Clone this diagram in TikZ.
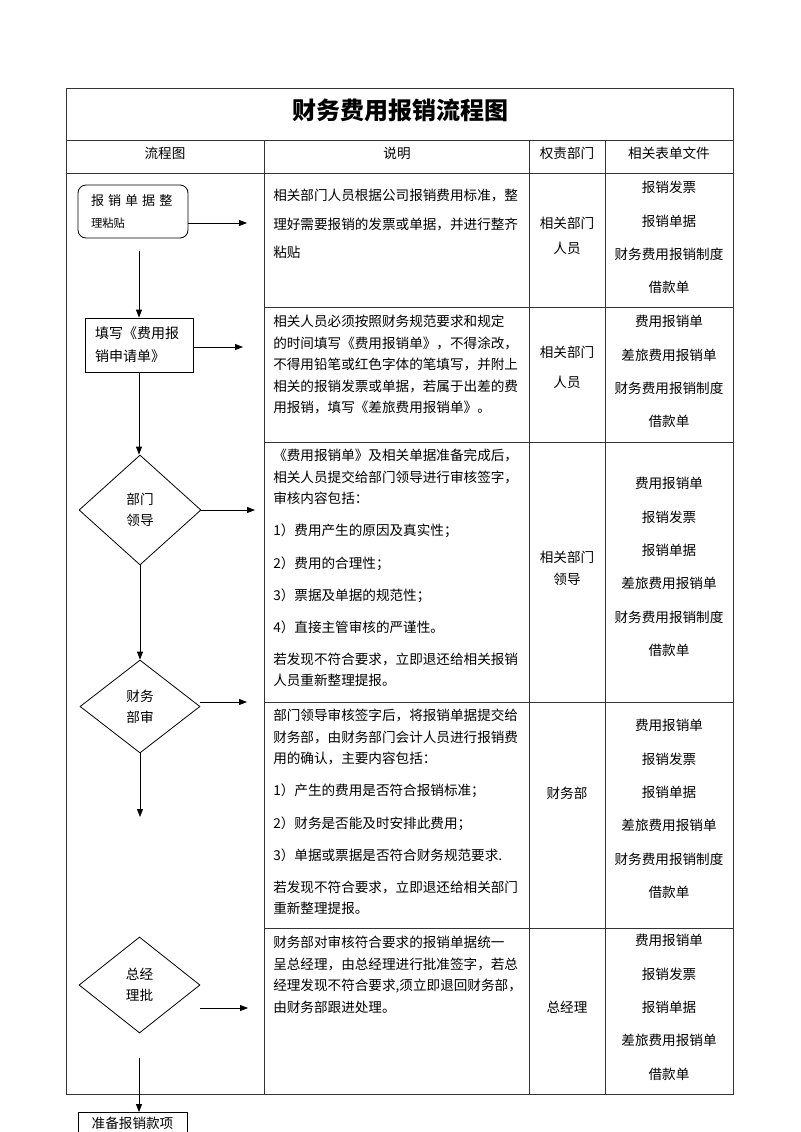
\documentclass[tikz,border=0pt]{standalone}
\usepackage{fontspec}
\setmainfont{Noto Sans CJK SC}
\usetikzlibrary{arrows.meta,positioning,shapes.geometric}
\newcommand{\chgap}{\hspace{3pt}}

\begin{document}
\begin{tikzpicture}[x=0.75pt,y=-0.75pt,
    tbl/.style={line width=0.6pt, black!80},
    flowbox/.style={draw, line width=0.6pt, inner sep=0pt, font=\fontsize{10.2}{17}\selectfont},
    decide/.style={draw, diamond, line width=0.6pt, inner sep=0pt, align=center, font=\fontsize{10.2}{16}\selectfont},
    arr/.style={-{Triangle[length=6pt,width=4.5pt]}, line width=0.6pt},
    txt/.style={inner sep=0pt, font=\fontsize{10.2}{16.1}\selectfont},
    desc/.style={txt, anchor=north west, align=left},
    dept/.style={txt, anchor=north, align=center},
    docs/.style={txt, anchor=north, align=center, font=\fontsize{10.2}{25}\selectfont}]
    \useasboundingbox (0,0) rectangle (800,1132);

    % table frame
    \draw[tbl] (66,88) rectangle (733,1094);
    \draw[tbl] (66,140) -- (733,140);
    \draw[tbl] (66,173) -- (733,173);
    \foreach \x in {264,529,605} \draw[tbl] (\x,140) -- (\x,1094);
    \foreach \y in {307,442,702,928} \draw[tbl] (264,\y) -- (733,\y);

    % title and header
    \node[font=\fontsize{18}{20}\selectfont\bfseries] (title) at (400,110) {财务费用报销流程图};
    \node[txt] (h1) at (165,153) {流程图};
    \node[txt] (h2) at (397,153) {说明};
    \node[txt] (h3) at (567,153) {权责部门};
    \node[txt] (h4) at (669,153) {相关表单文件};

    % flow shapes
    \node[flowbox, rounded corners=6pt, minimum width=82.5pt, minimum height=39.75pt,
          text width=63pt, align=left, font=\fontsize{9.8}{16}\selectfont] (b1) at (133,211.5)
          {报\chgap 销\chgap 单\chgap 据\chgap 整\\{\fontsize{8.5}{10}\selectfont 理粘贴}};
    \node[flowbox, minimum width=81pt, minimum height=40.5pt, text width=66pt, align=left,
          font=\fontsize{10.5}{17}\selectfont] (b2) at (139,345) {填写《费用报\\销申请单》};
    \node[decide, minimum width=91.5pt, minimum height=82.5pt] (d1) at (140,510) {部门\\领导};
    \node[decide, minimum width=90pt, minimum height=69.75pt] (d2) at (140,706.5) {财务\\部审};
    \node[decide, minimum width=90.75pt, minimum height=72pt] (d3) at (139.5,985) {总经\\理批};
    \node[flowbox, anchor=north, minimum width=81.75pt, inner ysep=3.2pt] (b4) at (132.5,1112) {准备报销款项};

    % arrow ends
    \coordinate (s1) at (139,251);
    \coordinate (a1) at (247,223);
    \coordinate (a2) at (243,347);
    \coordinate (a3) at (255,511);
    \coordinate (a4) at (247,702);
    \coordinate (e4) at (140,817);
    \coordinate (a5) at (248,1008);
    \coordinate (s5) at (139,1058);

    % arrows
    \draw[arr] (a1 -| b1.east) -- (a1);
    \draw[arr] (s1) -- (s1 |- b2.north);
    \draw[arr] (a2 -| b2.east) -- (a2);
    \draw[arr] (b2.south) -- (b2.south |- d1.north);
    \draw[arr] (d1.east) -- (d1.east -| a3);
    \draw[arr] (d1.south) -- (d1.south |- d2.north);
    \draw[arr] (a4 -| d2.east) -- (a4);
    \draw[arr] (d2.south) -- (e4);
    \draw[arr] (a5 -| d3.east) -- (a5);
    \draw[arr] (s5) -- (s5 |- b4.north);

    % description column
    \node[desc, font=\fontsize{10.2}{21.4}\selectfont] (t1) at (273,189)
        {相关部门人员根据公司报销费用标准，整\\理好需要报销的发票或单据，并进行整齐\\粘贴};
    \node[desc] (t2) at (273,315)
        {相关人员必须按照财务规范要求和规定\\的时间填写《费用报销单》，不得涂改，\\不得用铅笔或红色字体的笔填写，并附上\\相关的报销发票或单据，若属于出差的费\\用报销，填写《差旅费用报销单》。};
    \node[desc] (t3) at (273,449)
        {《费用报销单》及相关单据准备完成后，\\相关人员提交给部门领导进行审核签字，\\审核内容包括：\\[8pt]1）费用产生的原因及真实性；\\[8pt]2）费用的合理性；\\[8pt]3）票据及单据的规范性；\\[8pt]4）直接主管审核的严谨性。\\[8pt]若发现不符合要求，立即退还给相关报销\\人员重新整理提报。};
    \node[desc] (t4) at (273,709)
        {部门领导审核签字后，将报销单据提交给\\财务部，由财务部门会计人员进行报销费\\用的确认，主要内容包括：\\[8pt]1）产生的费用是否符合报销标准；\\[8pt]2）财务是否能及时安排此费用；\\[8pt]3）单据或票据是否符合财务规范要求.\\[8pt]若发现不符合要求，立即退还给相关部门\\重新整理提报。};
    \node[desc] (t5) at (273,936)
        {财务部对审核符合要求的报销单据统一\\呈总经理，由总经理进行批准签字，若总\\经理发现不符合要求,须立即退回财务部，\\由财务部跟进处理。};

    % department column
    \node[dept] (p1) at (567,217) {相关部门\\[2.6pt]人员};
    \node[dept] (p2) at (567,346) {相关部门\\[6.4pt]人员};
    \node[dept] (p3) at (567,551) {相关部门\\领导};
    \node[dept] (p4) at (567,787) {财务部};
    \node[dept] (p5) at (567,1001) {总经理};

    % forms column
    \node[docs] (f1) at (669,181) {报销发票\\报销单据\\财务费用报销制度\\借款单};
    \node[docs] (f2) at (669,315) {费用报销单\\差旅费用报销单\\财务费用报销制度\\借款单};
    \node[docs] (f3) at (669,477) {费用报销单\\报销发票\\报销单据\\差旅费用报销单\\财务费用报销制度\\借款单};
    \node[docs] (f4) at (669,719) {费用报销单\\报销发票\\报销单据\\差旅费用报销单\\财务费用报销制度\\借款单};
    \node[docs] (f5) at (669,934) {费用报销单\\报销发票\\报销单据\\差旅费用报销单\\借款单};
\end{tikzpicture}
\end{document}
